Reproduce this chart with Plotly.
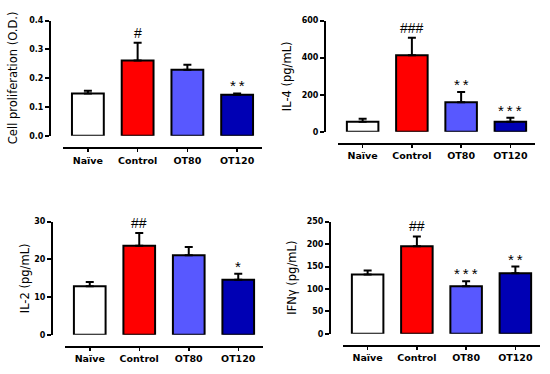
import plotly.graph_objects as go

groups = ["Naïve", "Control", "OT80", "OT120"]
colors = ["#FFFFFF", "#FF0000", "#5858FF", "#0000B4"]

cell_mean = [0.147, 0.261, 0.229, 0.142]
cell_err = [0.156, 0.323, 0.247, 0.147]
cell_sig = ["", "#", "", "**"]

il4_mean = [54, 413, 160, 55]
il4_err = [70, 507, 215, 76]
il4_sig = ["", "###", "**", "***"]

il2_mean = [12.9, 23.6, 21.1, 14.6]
il2_err = [14.0, 27.0, 23.3, 16.2]
il2_sig = ["", "##", "", "*"]

ifn_mean = [132, 195, 106, 135]
ifn_err = [141, 217, 117, 150]
ifn_sig = ["", "##", "***", "**"]

panels = [
    dict(mean=cell_mean, err=cell_err, sig=cell_sig, title="Cell proliferation (O.D.)",
         yrange=[0, 0.4], dtick=0.1, fmt=".1f",
         xdom=[63, 262], ydom=[135, 17], xpos=148, ypos=50, tx=13),
    dict(mean=il4_mean, err=il4_err, sig=il4_sig, title="IL-4 (pg/mL)",
         yrange=[0, 600], dtick=200, fmt="d",
         xdom=[338, 535], ydom=[131, 17], xpos=143, ypos=325, tx=287),
    dict(mean=il2_mean, err=il2_err, sig=il2_sig, title="IL-2 (pg/mL)",
         yrange=[0, 30], dtick=10, fmt="d",
         xdom=[65, 263], ydom=[339, 223], xpos=351, ypos=52, tx=25),
    dict(mean=ifn_mean, err=ifn_err, sig=ifn_sig, title="IFNγ (pg/mL)",
         yrange=[0, 250], dtick=50, fmt="d",
         xdom=[343, 540], ydom=[338, 223], xpos=350, ypos=330, tx=292),
]

W, H = 550, 374
fig = go.Figure()
annotations = []
tick_family = "DejaVu Sans, sans-serif"
sig_family = "Liberation Sans, Arial, sans-serif"

for i, p in enumerate(panels, start=1):
    xa = "x" if i == 1 else f"x{i}"
    ya = "y" if i == 1 else f"y{i}"
    fig.add_trace(go.Bar(
        x=groups, y=p["mean"], xaxis=xa, yaxis=ya,
        marker=dict(color=colors, line=dict(color="black", width=2)),
        width=0.64,
        error_y=dict(type="data", symmetric=False,
                     array=[e - m for e, m in zip(p["err"], p["mean"])],
                     arrayminus=[0] * 4, color="black", thickness=2, width=4),
        showlegend=False, hoverinfo="skip",
    ))
    for g, e, s in zip(groups, p["err"], p["sig"]):
        if s:
            is_star = s.startswith("*")
            txt = "\u2009".join(list(s)) if is_star else s
            annotations.append(dict(x=g, y=e, xref=xa, yref=ya, text=txt, showarrow=False,
                                    yanchor="bottom", yshift=(-3 if is_star else 0),
                                    font=dict(family=sig_family, size=(15 if is_star else 14),
                                              color="black")))
    xkey = "xaxis" if i == 1 else f"xaxis{i}"
    ykey = "yaxis" if i == 1 else f"yaxis{i}"
    fig.update_layout(**{
        xkey: dict(domain=[p["xdom"][0] / W, p["xdom"][1] / W], anchor="free",
                   position=1 - p["xpos"] / H, showline=True, linecolor="black", linewidth=2,
                   ticks="outside", ticklen=3, tickwidth=1.5, tickcolor="black",
                   tickfont=dict(family=tick_family, size=9.5, color="black", weight="bold"),
                   showgrid=False, zeroline=False, fixedrange=True),
        ykey: dict(domain=[1 - p["ydom"][0] / H, 1 - p["ydom"][1] / H], anchor="free",
                   position=p["ypos"] / W, range=p["yrange"], dtick=p["dtick"],
                   tickformat=p["fmt"], showline=True, linecolor="black", linewidth=2,
                   ticks="outside", ticklen=4, tickwidth=2, tickcolor="black",
                   tickfont=dict(family=tick_family, size=8, color="black", weight="bold"),
                   showgrid=False, zeroline=False, fixedrange=True),
    })
    annotations.append(dict(x=p["tx"] / W, y=1 - (p["ydom"][0] + p["ydom"][1]) / 2 / H,
                            xref="paper", yref="paper", text=p["title"], textangle=-90,
                            showarrow=False, xanchor="center", yanchor="middle",
                            font=dict(family=tick_family, size=11.5, color="black")))

fig.update_layout(width=W, height=H, margin=dict(l=0, r=0, t=0, b=0),
                  paper_bgcolor="white", plot_bgcolor="white",
                  annotations=annotations, bargap=0.36)
fig.write_html("out.html", config={"displayModeBar": False, "staticPlot": True},
               post_script="document.body.style.margin='0px';")
